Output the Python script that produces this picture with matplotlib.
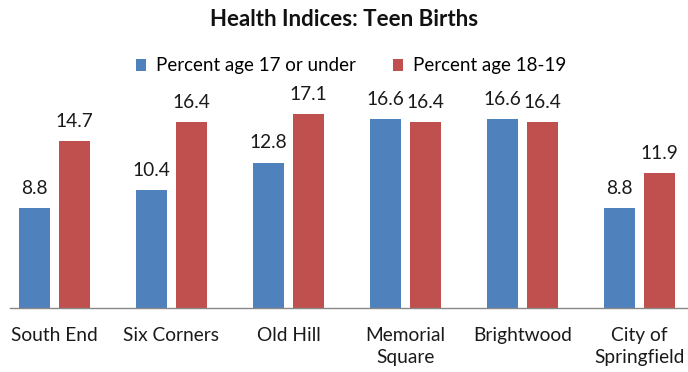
import matplotlib
matplotlib.use("Agg")
import matplotlib.pyplot as plt
import numpy as np

categories = ["South End", "Six Corners", "Old Hill", "Memorial\nSquare",
              "Brightwood", "City of\nSpringfield"]
under17 = [8.8, 10.4, 12.8, 16.6, 16.6, 8.8]
age18_19 = [14.7, 16.4, 17.1, 16.4, 16.4, 11.9]
series_names = ["Percent age 17 or under", "Percent age 18-19"]

BLUE = "#4F81BD"
RED = "#C0504D"

plt.rcParams["font.family"] = ["Lato", "DejaVu Sans"]

W, H = 688, 372
fig = plt.figure(figsize=(W / 100, H / 100), dpi=100)

# axes placed in pixel terms
left, right, bottom, top = 10, 688, 308, 103.5
ax = fig.add_axes([left / W, 1 - bottom / H, (right - left) / W, (bottom - top) / H])

x = np.arange(len(categories))
bw = 0.265
off = 0.171
b1 = ax.bar(x - off, under17, bw, color=BLUE, label=series_names[0])
b2 = ax.bar(x + off, age18_19, bw, color=RED, label=series_names[1])

for bars, vals in ((b1, under17), (b2, age18_19)):
    for rect, v in zip(bars, vals):
        ax.annotate(f"{v:.1f}", (rect.get_x() + rect.get_width() / 2, v),
                    xytext=(0, 8), textcoords="offset points",
                    ha="center", va="bottom", fontsize=13.8, color="#1a1a1a",
                    annotation_clip=False)

ax.set_xlim(-0.380, 5.415)
ax.set_ylim(0, 18)
ax.set_xticks(x)
ax.set_xticklabels(categories, fontsize=13.8, color="#1a1a1a", linespacing=1.3)
ax.tick_params(axis="x", length=0, pad=14)
ax.set_yticks([])
for s in ("top", "right", "left"):
    ax.spines[s].set_visible(False)
ax.spines["bottom"].set_color("#888888")
ax.spines["bottom"].set_linewidth(1.0)

fig.text(0.5, 1 - 20 / H, "Health Indices: Teen Births", ha="center", va="center",
         fontsize=16, fontweight="bold", color="#111111")

fig.legend(handles=[b1, b2], labels=series_names, loc="center",
           bbox_to_anchor=(351 / W, 1 - 66 / H), ncol=2, frameon=False,
           fontsize=13.5, handlelength=0.55, handleheight=0.55, handletextpad=0.5,
           columnspacing=2.0)

fig.savefig("out.png", dpi=100)
